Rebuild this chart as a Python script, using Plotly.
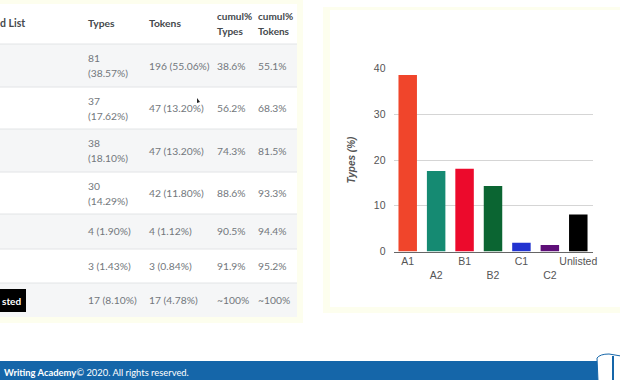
import plotly.graph_objects as go

W, H = 620, 380
levels = ["A1", "A2", "B1", "B2", "C1", "C2", "Unlisted"]
types_pct = [38.57, 17.62, 18.10, 14.29, 1.90, 1.43, 8.10]
bar_colors = ["#f0452b", "#158a72", "#ec0a2c", "#0b6532", "#2233d0", "#5e0f78", "#000000"]
tick_labels = ["A1", "<br>A2", "B1", "<br>B2", "C1", "<br>C2", "Unlisted"]
y_ticks = [0, 10, 20, 30, 40]

types_line1 = ["81", "37", "38", "30", "4 (1.90%)", "3 (1.43%)", "17 (8.10%)"]
types_line2 = ["(38.57%)", "(17.62%)", "(18.10%)", "(14.29%)", "", "", ""]
tokens_col = ["196 (55.06%)", "47 (13.20%)", "47 (13.20%)", "42 (11.80%)", "4 (1.12%)", "3 (0.84%)", "17 (4.78%)"]
cum_types = ["38.6%", "56.2%", "74.3%", "88.6%", "90.5%", "91.9%", "~100%"]
cum_tokens = ["55.1%", "68.3%", "81.5%", "93.3%", "94.4%", "95.2%", "~100%"]
row_edges = [44, 87, 129, 172, 214, 249, 283, 317]


def px(x):
    return x / W


def py(y):
    return 1 - y / H


shapes = []
ann = []


def rect(x0, y0, x1, y1, color):
    shapes.append(dict(type="rect", xref="paper", yref="paper", x0=px(x0), x1=px(x1), y0=py(y1), y1=py(y0),
                       fillcolor=color, line=dict(width=0), layer="below"))


def hline(x0, x1, y, color):
    shapes.append(dict(type="line", xref="paper", yref="paper", x0=px(x0), x1=px(x1), y0=py(y), y1=py(y),
                       line=dict(color=color, width=1), layer="below"))


def text(x, y, s, size=10.3, color="#72777c", bold=False, family="Lato"):
    ann.append(dict(xref="paper", yref="paper", x=px(x), y=py(y), text=f"<b>{s}</b>" if bold else s,
                    showarrow=False, xanchor="left", yanchor="middle",
                    font=dict(size=size, color=color, family=family), borderpad=0))


# cream panels
rect(0, 0, 303, 323, "#fdfeee")
rect(0, 4, 297, 317, "#ffffff")
rect(323, 7, 620, 313, "#fdfeee")
rect(330, 10, 620, 307, "#ffffff")
# rows
for i in range(7):
    if i % 2 == 0:
        rect(0, row_edges[i], 297, row_edges[i + 1], "#f5f6f7")
    hline(0, 297, row_edges[i], "#e2e4e6")
# header
hdr = "#45494d"
text(-1, 23, "d List", 10.5, hdr, True)
text(87, 23, "Types", 10.3, hdr, True)
text(148, 23, "Tokens", 10.3, hdr, True)
text(216, 16, "cumul%", 10, hdr, True)
text(257, 16, "cumul%", 10, hdr, True)
text(216, 31, "Types", 10, hdr, True)
text(257, 31, "Tokens", 10, hdr, True)
# body
for i in range(7):
    c = (row_edges[i] + row_edges[i + 1]) / 2
    if types_line2[i]:
        text(87, c - 7.5, types_line1[i])
        text(87, c + 7.5, types_line2[i])
    else:
        text(87, c, types_line1[i])
    text(148, c, tokens_col[i])
    text(216, c, cum_types[i])
    text(257, c, cum_tokens[i])
# Unlisted badge
rect(0, 289, 26, 312, "#000000")
text(1, 301, "sted", 10, "#ffffff", True)
# cursor
shapes.append(dict(type="path", xref="paper", yref="paper", layer="above",
                   path=f"M {px(197)} {py(98)} L {px(197)} {py(103)} L {px(200)} {py(102)} Z",
                   fillcolor="#222222", line=dict(width=0)))
# footer
rect(0, 361, 620, 380, "#1566a9")
text(3, 372.5, "<b>Writing Academy</b>© 2020. All rights reserved.", 9.4, "#ffffff", False, "Lato")
# book icon
shapes.append(dict(type="path", xref="paper", yref="paper", layer="above",
                   path=f"M {px(621)} {py(356)} L {px(609)} {py(354)} Q {px(600)} {py(354)} {px(597)} {py(358)} L {px(598)} {py(381)} L {px(621)} {py(381)} Z",
                   fillcolor="#ffffff", line=dict(color="#1566a9", width=1)))
shapes.append(dict(type="line", xref="paper", yref="paper", layer="above", x0=px(613), x1=px(613),
                   y0=py(356), y1=py(380), line=dict(color="#1566a9", width=2)))

fig = go.Figure(go.Bar(x=levels, y=types_pct, marker=dict(color=bar_colors, line=dict(width=0)), width=0.65))
fig.update_layout(
    width=W, height=H, margin=dict(l=0, r=0, t=0, b=0), autosize=False,
    plot_bgcolor="rgba(0,0,0,0)", paper_bgcolor="#ffffff", showlegend=False,
    shapes=shapes, annotations=ann, bargap=0.35,
    xaxis=dict(domain=[px(393.5), px(592.5)], type="category", range=[-0.5, 6.5], tickmode="array",
               tickvals=levels, ticktext=tick_labels, showgrid=False, showline=True, linecolor="#666666",
               linewidth=1, ticks="", tickfont=dict(family="Liberation Sans", size=10.5, color="#555555"),
               ticklabeloverflow="allow", automargin=False, tickangle=0),
    yaxis=dict(domain=[py(251.5), py(68.5)], range=[0, 40], tickvals=y_ticks, showgrid=True,
               gridcolor="#d5d5d5", gridwidth=1, zeroline=False, ticks="", ticklabelstandoff=7,
               tickfont=dict(family="Liberation Sans", size=10.5, color="#555555"), automargin=False,
               title=dict(text="<b><i>Types (%)</i></b>", standoff=16,
                          font=dict(family="Liberation Sans", size=10, color="#555555"))),
)
fig.write_html("out.html", config=dict(displayModeBar=False),
               post_script="document.body.style.margin='0';")
